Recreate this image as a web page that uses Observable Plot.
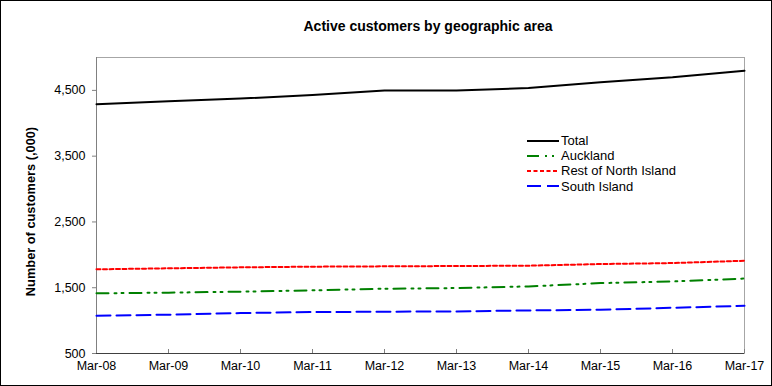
<!DOCTYPE html>
<html><head><meta charset="utf-8">
<script src="https://cdn.jsdelivr.net/npm/d3@7"></script>
<script src="https://cdn.jsdelivr.net/npm/@observablehq/plot@0.6"></script>
<style>
body{margin:0;background:#fff;}
#wrap{position:relative;width:772px;height:386px;overflow:hidden;font-family:Arial,"Liberation Sans",sans-serif;color:#000;}
#frame{position:absolute;left:0;top:0;width:772px;height:386px;box-sizing:border-box;border:1px solid #000;pointer-events:none;}
#title{position:absolute;left:0;width:856px;top:18px;line-height:16px;text-align:center;font-weight:bold;font-size:14px;}
#legend{position:absolute;left:527px;top:133px;font-size:13px;}
.row{display:flex;align-items:center;height:15.2px;white-space:nowrap;}
.row svg{margin-right:2px;display:block;}
#chart svg{position:absolute;left:0;top:0;}
</style></head><body>
<div id="wrap"><div id="chart"></div><div id="title"></div><div id="legend"></div><div id="frame"></div></div>
<script>
const chartTitle = "Active customers by geographic area";
const yLabel = "Number of customers (,000)";
const periods = ["Mar-08","Mar-09","Mar-10","Mar-11","Mar-12","Mar-13","Mar-14","Mar-15","Mar-16","Mar-17"];
const seriesNames = ["Total","Auckland","Rest of North Island","South Island"];
const total = [4290, 4335, 4375, 4430, 4500, 4500, 4535, 4625, 4700, 4800];
const auckland = [1415, 1425, 1440, 1460, 1485, 1495, 1520, 1570, 1595, 1640];
const restOfNorthIsland = [1780, 1795, 1810, 1820, 1825, 1830, 1835, 1860, 1875, 1910];
const southIsland = [1075, 1090, 1115, 1130, 1135, 1140, 1155, 1165, 1195, 1225];
const yTicks = [500, 1500, 2500, 3500, 4500];

const seriesStyle = {
  "Total": {stroke: "#000000", dash: null},
  "Auckland": {stroke: "#008000", dash: "12,6,2,5,2,6"},
  "Rest of North Island": {stroke: "#ff0000", dash: "4,2.5"},
  "South Island": {stroke: "#0000ff", dash: "14,6"}
};

const seriesValues = [total, auckland, restOfNorthIsland, southIsland];
const rows = seriesNames.flatMap((s, i) => periods.map((p, j) => ({series: s, period: p, value: seriesValues[i][j]})));
const fmt = d3.format(",.0f");

const chart = Plot.plot({
  width: 772, height: 386,
  marginLeft: 96, marginRight: 28, marginTop: 57, marginBottom: 33,
  style: {fontFamily: "Arial, 'Liberation Sans', sans-serif", fontSize: "12.5px", background: "transparent", color: "#000"},
  x: {type: "point", domain: periods, padding: 0},
  y: {domain: [500, 5000]},
  marks: [
    Plot.frame({stroke: "#a6a6a6"}),
    Plot.axisY({ticks: yTicks, tickFormat: fmt, tickSize: 4, tickPadding: 7, stroke: "#808080", label: null}),
    Plot.axisX({tickSize: -4, tickPadding: 12, stroke: "#808080", label: null}),
    Plot.ruleX([periods[0]], {stroke: "#808080"}),
    Plot.ruleY([yTicks[0]], {stroke: "#404040"}),
    ...seriesNames.slice().reverse().map(s => Plot.line(rows.filter(d => d.series === s), {
      x: "period", y: "value", stroke: seriesStyle[s].stroke, strokeWidth: 2,
      strokeDasharray: seriesStyle[s].dash
    })),
    Plot.text([yLabel], {text: d => d, frameAnchor: "left", rotate: -90, dx: -71, dy: 6, lineAnchor: "top", textAnchor: "middle", fontWeight: "bold", fontSize: 12.8})
  ]
});
document.getElementById("chart").appendChild(chart);
document.getElementById("title").textContent = chartTitle;

const legend = document.getElementById("legend");
for (const s of seriesNames) {
  const row = document.createElement("div");
  row.className = "row";
  const ns = "http://www.w3.org/2000/svg";
  const svg = document.createElementNS(ns, "svg");
  svg.setAttribute("width", 32); svg.setAttribute("height", 6);
  const ln = document.createElementNS(ns, "line");
  ln.setAttribute("x1", 0); ln.setAttribute("x2", 32); ln.setAttribute("y1", 3); ln.setAttribute("y2", 3);
  ln.setAttribute("stroke", seriesStyle[s].stroke); ln.setAttribute("stroke-width", 2);
  if (seriesStyle[s].dash) ln.setAttribute("stroke-dasharray", seriesStyle[s].dash);
  svg.appendChild(ln);
  const t = document.createElement("span");
  t.textContent = s;
  row.appendChild(svg); row.appendChild(t);
  legend.appendChild(row);
}
</script>
</body></html>
